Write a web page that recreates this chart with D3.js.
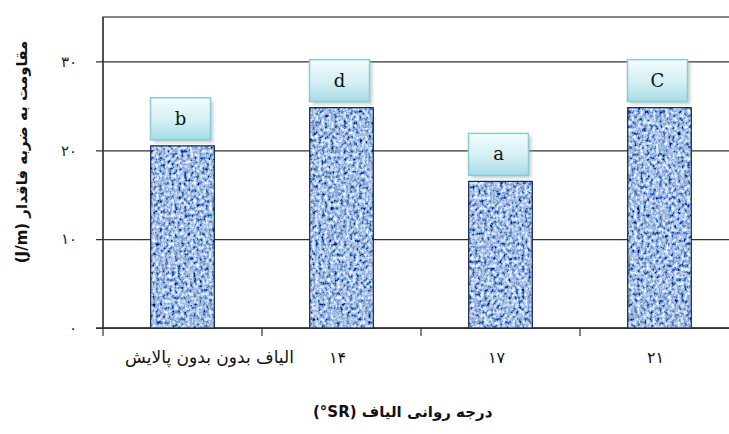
<!DOCTYPE html>
<html>
<head>
<meta charset="utf-8">
<script src="https://cdn.jsdelivr.net/npm/d3@7"></script>
<style>
  body { margin: 0; background: #fff; }
  svg { display: block; }
</style>
</head>
<body>
<div id="vis"></div>
<script>
const categories = ["الیاف بدون بدون پالایش", "۱۴", "۱۷", "۲۱"];
const values = [20.5, 24.8, 16.5, 24.8];
const letters = ["b", "d", "a", "C"];
const yTicks = [0, 10, 20, 30];

const width = 729, height = 434;
const margin = {top: 17, left: 103, bottom: 106};

const svg = d3.select("#vis")
    .append("svg")
    .attr("width", width)
    .attr("height", height);

const defs = svg.append("defs");

// woven blue texture for the bars
const tex = defs.append("filter")
    .attr("id", "tex")
    .attr("x", 0).attr("y", 0).attr("width", "100%").attr("height", "100%");
tex.append("feTurbulence")
    .attr("type", "fractalNoise")
    .attr("baseFrequency", "0.32 0.28")
    .attr("numOctaves", 3)
    .attr("seed", 4)
    .attr("result", "n");
tex.append("feColorMatrix")
    .attr("in", "n")
    .attr("type", "matrix")
    .attr("values", "1.7 0 0 0 -0.48  1.65 0 0 0 -0.33  1.35 0 0 0 0.08  0 0 0 0 1")
    .attr("result", "c");
tex.append("feComposite")
    .attr("in", "c")
    .attr("in2", "SourceGraphic")
    .attr("operator", "in");

const grad = defs.append("linearGradient")
    .attr("id", "boxGrad")
    .attr("x1", 0).attr("y1", 0).attr("x2", 0).attr("y2", 1);
grad.append("stop").attr("offset", "0%").attr("stop-color", "#f4fcfd");
grad.append("stop").attr("offset", "55%").attr("stop-color", "#d2eff3");
grad.append("stop").attr("offset", "100%").attr("stop-color", "#a6dbe4");

const blur = defs.append("filter").attr("id", "shadow");
blur.append("feGaussianBlur").attr("stdDeviation", 1.5);

const x = d3.scaleBand()
    .domain(categories)
    .range([margin.left, margin.left + 4 * 159]);

const y = d3.scaleLinear()
    .domain([0, 35])
    .range([height - margin.bottom, margin.top]);

const fa = (n) => String(n).replace(/\d/g, (c) => "۰۱۲۳۴۵۶۷۸۹"[+c]);

// plot frame (right edge falls outside the picture)
svg.append("rect")
    .attr("x", margin.left)
    .attr("y", y(35))
    .attr("width", x.range()[1] - margin.left)
    .attr("height", y(0) - y(35))
    .attr("fill", "none")
    .attr("stroke", "#333")
    .attr("stroke-width", 1.2);

// gridlines + y axis
const yAxis = svg.append("g")
    .attr("transform", "translate(" + margin.left + ",0)")
    .call(d3.axisLeft(y)
        .tickValues(yTicks)
        .tickSize(-(x.range()[1] - margin.left))
        .tickSizeOuter(0)
        .tickPadding(26)
        .tickFormat(fa));
yAxis.select(".domain").remove();
yAxis.selectAll(".tick line")
    .attr("x1", -7)
    .attr("stroke", "#333")
    .attr("stroke-width", 1.2);
yAxis.selectAll(".tick text")
    .attr("font-family", "DejaVu Sans")
    .attr("font-size", 15)
    .attr("fill", "#222");

svg.append("line")
    .attr("x1", margin.left).attr("x2", margin.left)
    .attr("y1", y(35)).attr("y2", y(0) + 8)
    .attr("stroke", "#333").attr("stroke-width", 1.2);

// x axis
const xAxis = svg.append("g")
    .attr("transform", "translate(0," + y(0) + ")");
xAxis.append("line")
    .attr("x1", margin.left - 7).attr("x2", width)
    .attr("stroke", "#333").attr("stroke-width", 1.4);
xAxis.selectAll(".xt")
    .data(categories)
    .enter()
    .append("line")
    .attr("x1", (d) => x(d) + x.bandwidth())
    .attr("x2", (d) => x(d) + x.bandwidth())
    .attr("y1", 0).attr("y2", 8)
    .attr("stroke", "#333").attr("stroke-width", 1.2);
xAxis.selectAll(".xl")
    .data(categories)
    .enter()
    .append("text")
    .attr("x", (d, i) => x(d) + x.bandwidth() / 2 + (i === 0 ? 27 : -4))
    .attr("y", 35)
    .attr("text-anchor", "middle")
    .attr("font-family", "DejaVu Sans")
    .attr("font-size", (d, i) => i === 0 ? 17 : 16)
    .attr("fill", "#111")
    .text((d) => d);

// bars
const barW = x.bandwidth() * 0.4;
const bars = svg.selectAll(".bar")
    .data(values)
    .enter()
    .append("g");
bars.append("rect")
    .attr("x", (d, i) => x(categories[i]) + (x.bandwidth() - barW) / 2)
    .attr("y", (d) => y(d))
    .attr("width", barW)
    .attr("height", (d) => y(0) - y(d))
    .attr("fill", "#6b8bcf")
    .attr("filter", "url(#tex)");
bars.append("rect")
    .attr("x", (d, i) => x(categories[i]) + (x.bandwidth() - barW) / 2)
    .attr("y", (d) => y(d))
    .attr("width", barW)
    .attr("height", (d) => y(0) - y(d))
    .attr("fill", "none")
    .attr("stroke", "#142447")
    .attr("stroke-width", 1.2);

// letter boxes
const boxW = 60, boxH = 42;
const boxes = svg.selectAll(".lbl")
    .data(letters)
    .enter()
    .append("g")
    .attr("transform", (d, i) => "translate(" +
        (x(categories[i]) + x.bandwidth() / 2 - boxW / 2 - 2) + "," +
        (y(values[i]) - 6 - boxH) + ")");
boxes.append("rect")
    .attr("x", 3).attr("y", 3)
    .attr("width", boxW).attr("height", boxH)
    .attr("fill", "#9aa")
    .attr("opacity", 0.5)
    .attr("filter", "url(#shadow)");
boxes.append("rect")
    .attr("width", boxW).attr("height", boxH)
    .attr("fill", "url(#boxGrad)")
    .attr("stroke", "#8ccad5")
    .attr("stroke-width", 1.5);
boxes.append("text")
    .attr("x", boxW / 2)
    .attr("y", boxH / 2 + 6)
    .attr("text-anchor", "middle")
    .attr("font-family", "DejaVu Serif")
    .attr("font-size", 18)
    .attr("fill", "#111")
    .text((d) => d);

// axis titles
svg.append("text")
    .attr("transform", "translate(27,152) rotate(-90)")
    .attr("text-anchor", "middle")
    .attr("font-family", "DejaVu Sans")
    .attr("font-weight", "bold")
    .attr("font-size", 15)
    .attr("fill", "#111")
    .text("(J/m) مقاومت به ضربه فاقدار");

svg.append("text")
    .attr("x", 313)
    .attr("y", 417)
    .attr("text-anchor", "start")
    .attr("font-family", "DejaVu Sans")
    .attr("font-weight", "bold")
    .attr("font-size", 15)
    .attr("fill", "#111")
    .text("(°SR) درجه روانی الیاف");
</script>
</body>
</html>
